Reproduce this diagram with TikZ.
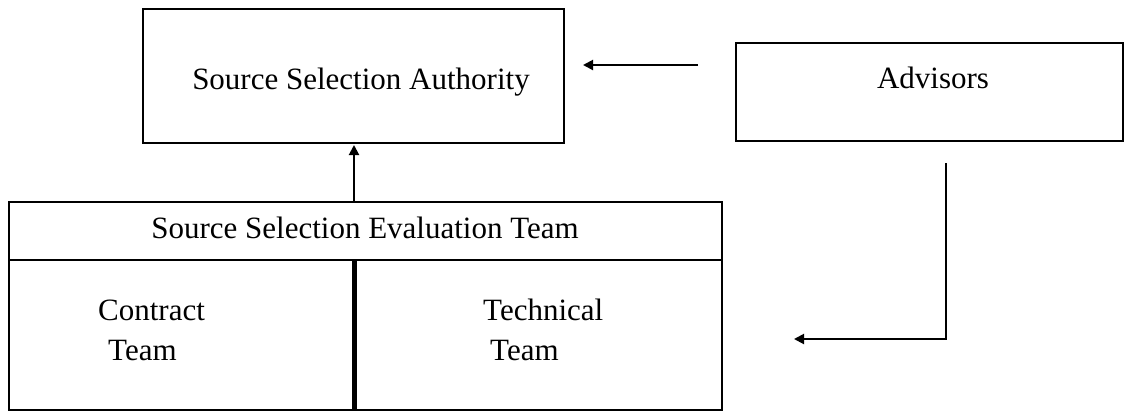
\documentclass[tikz,border=0pt]{standalone}
\usepackage{fontspec}
\setmainfont{Liberation Serif}
\usetikzlibrary{arrows.meta}
\begin{document}
\begin{tikzpicture}[x=1pt,y=-1pt,
  box/.style={draw, line width=1.8pt, inner sep=0pt},
  lbl/.style={font=\fontsize{31}{36}\selectfont, inner sep=0pt},
  conn/.style={line width=2pt, -{Triangle[length=10pt,width=10pt]}}]
\useasboundingbox (0,0) rectangle (1126,413);

% Authority and advisors
\node[box, minimum width=421pt, minimum height=134pt] (ssa) at (353.5,76) {};
\node[lbl, anchor=base] (ssat) at (361,89) {Source Selection Authority};
\node[box, minimum width=387pt, minimum height=98pt] (adv) at (929.5,92) {};
\node[lbl, anchor=base] (advt) at (933,88) {Advisors};

% Evaluation team: header row and two sub-teams
\node[box, minimum width=713pt, minimum height=58pt] (sset) at (365.5,231) {};
\node[lbl, anchor=base] (ssett) at (365,238) {Source Selection Evaluation Team};
\node[box, minimum width=713pt, minimum height=150pt] (teams) at (365.5,335) {};
\draw[line width=5pt] (sset.south -| 354,0) coordinate (divt) -- (teams.south -| 354,0) coordinate (divb);
\node[lbl, anchor=base west] (ct1) at (98,320) {Contract};
\node[lbl, anchor=base west] (ct2) at (108,360) {Team};
\node[lbl, anchor=base west] (tt1) at (483,320) {Technical};
\node[lbl, anchor=base west] (tt2) at (490,360) {Team};

% Connectors
\coordinate (upS) at (354,202);
\coordinate (upE) at (354,145);
\draw[conn] (upS) -- (upE);
\coordinate (lS) at (698,65);
\coordinate (lE) at (583,65);
\draw[conn] (lS) -- (lE);
\coordinate (dS) at (946,163);
\coordinate (dE) at (794,339);
\draw[conn] (dS) |- (dE);
\end{tikzpicture}
\end{document}
